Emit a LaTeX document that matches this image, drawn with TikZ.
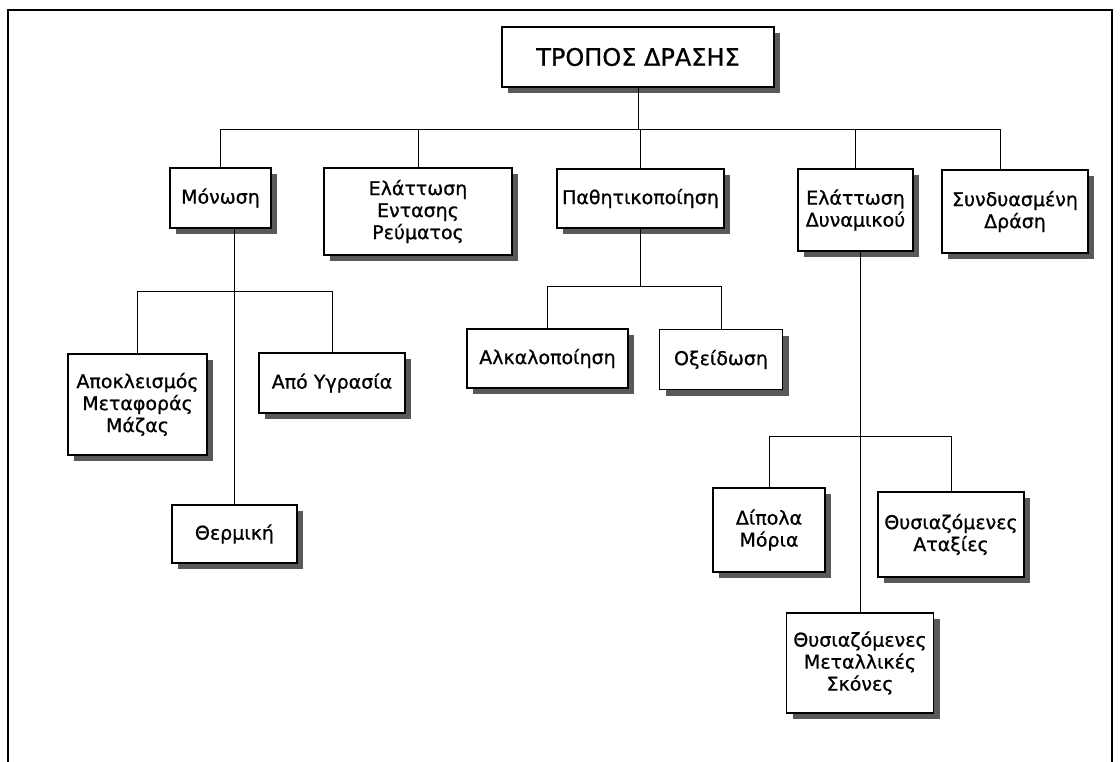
\documentclass[tikz,border=0pt]{standalone}
\usepackage{fontspec}
\setmainfont{DejaVu Sans}[BoldFont=DejaVu Sans, BoldFeatures={FakeBold=0.8}]
\usetikzlibrary{shadows}
\tikzset{
  box/.style={draw, line width=1.3pt, fill=white, align=center, inner sep=0pt,
    font=\fontsize{19}{22}\selectfont\bfseries,
    drop shadow={shadow xshift=6pt, shadow yshift=-6pt, fill=black!65, opacity=1}},
  conn/.style={line width=1pt},
}

\begin{document}
\begin{tikzpicture}[x=1pt, y=-1pt]
  \useasboundingbox (0,0) rectangle (1120,762);
  % Frame
  \draw[line width=2.5pt] (8,762) -- (8,10) -- (1112,10) -- (1112,762);

  % Root
  \node[box, font=\fontsize{24}{28}\selectfont\bfseries, minimum width=272pt, minimum height=60pt] (root) at (638,57) {ΤΡΟΠΟΣ ΔΡΑΣΗΣ};

  % First level
  \node[box, minimum width=101pt, minimum height=60pt] (monosi) at (220.5,198) {Μόνωση};
  \node[box, minimum width=188pt, minimum height=87pt] (entasi) at (418,211.5) {Ελάττωση\\Εντασης\\Ρεύματος};
  \node[box, minimum width=167pt, minimum height=59pt] (pathit) at (640.5,198.5) {Παθητικοποίηση};
  \node[box, minimum width=115pt, minimum height=82pt] (dynam) at (855.5,210) {Ελάττωση\\Δυναμικού};
  \node[box, minimum width=146pt, minimum height=83pt] (syndy) at (1015,211.5) {Συνδυασμένη\\Δράση};

  % Under Μόνωση
  \node[box, minimum width=139pt, minimum height=101pt] (apokl) at (137.5,404.5) {Αποκλεισμός\\Μεταφοράς\\Μάζας};
  \node[box, minimum width=146pt, minimum height=60pt] (ygras) at (332,383) {Από Υγρασία};
  \node[box, minimum width=125pt, minimum height=58pt] (thermi) at (234.5,534) {Θερμική};

  % Under Παθητικοποίηση
  \node[box, minimum width=161pt, minimum height=59pt] (alkal) at (547.5,358.5) {Αλκαλοποίηση};
  \node[box, minimum width=123pt, minimum height=60pt] (oxeid) at (721,359.5) {Οξείδωση};

  % Under Ελάττωση Δυναμικού
  \node[box, minimum width=112pt, minimum height=84pt] (dipola) at (769,530) {Δίπολα\\Μόρια};
  \node[box, minimum width=146pt, minimum height=85pt] (ataxies) at (951,534.5) {Θυσιαζόμενες\\Αταξίες};
  \node[box, minimum width=147pt, minimum height=100pt] (skones) at (860,663) {Θυσιαζόμενες\\Μεταλλικές\\Σκόνες};

  % Connectors
  \coordinate (bar1) at (1000,130);
  \coordinate (bar2) at (0,292);
  \coordinate (bar3) at (0,287);
  \coordinate (bar4) at (0,436);
  \draw[conn] (root.south) -- (root |- bar1);
  \draw[conn] (monosi.north) -- (monosi |- bar1) -- (bar1) -- (bar1 |- syndy.north);
  \draw[conn] (entasi.north) -- (entasi |- bar1);
  \draw[conn] (pathit.north) -- (pathit |- bar1);
  \draw[conn] (dynam.north) -- (dynam |- bar1);

  \draw[conn] (thermi.north) -- (thermi |- monosi.south);
  \draw[conn] (apokl.north) -- (apokl |- bar2) -- (ygras |- bar2) -- (ygras.north);

  \draw[conn] (pathit.south) -- (pathit |- bar3);
  \draw[conn] (alkal.north) -- (alkal |- bar3) -- (oxeid |- bar3) -- (oxeid.north);

  \draw[conn] (skones.north) -- (skones |- dynam.south);
  \draw[conn] (dipola.north) -- (dipola |- bar4) -- (ataxies |- bar4) -- (ataxies.north);
\end{tikzpicture}
\end{document}
